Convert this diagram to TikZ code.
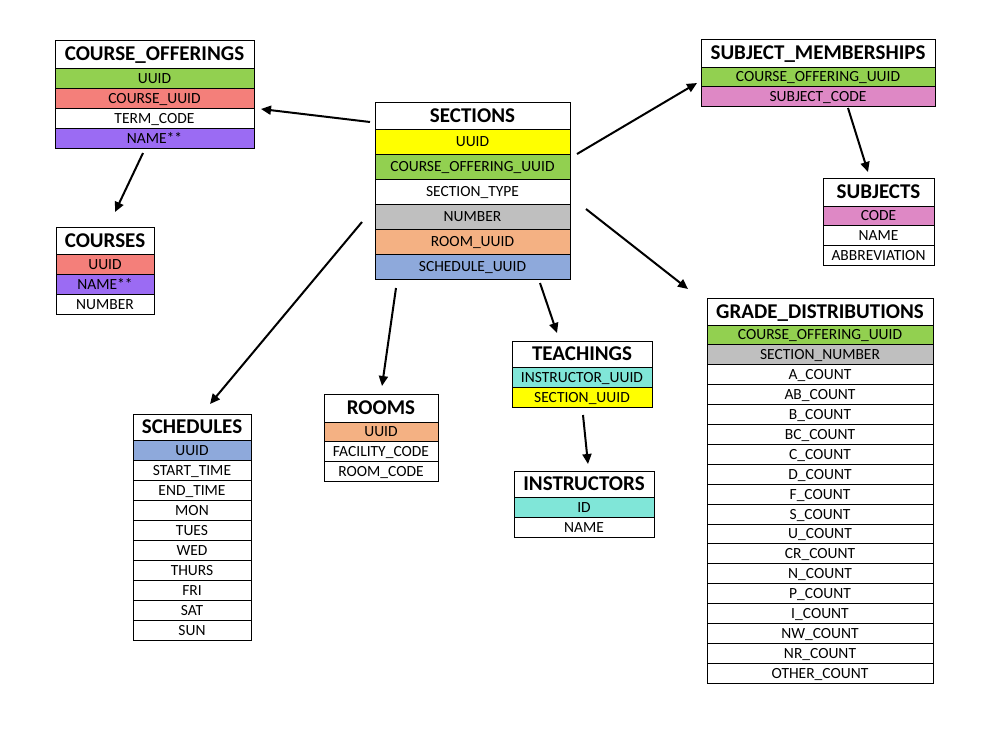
\documentclass[tikz,border=0pt]{standalone}
\usepackage{fontspec}
\setmainfont{Carlito}
\usetikzlibrary{arrows.meta}
\definecolor{cgreen}{HTML}{92D050}
\definecolor{csalmon}{HTML}{F47F7A}
\definecolor{cpurple}{HTML}{9B6BF3}
\definecolor{cyellow}{HTML}{FFFF00}
\definecolor{cgray}{HTML}{BFBFBF}
\definecolor{cpeach}{HTML}{F4B183}
\definecolor{cblue}{HTML}{8EA9DB}
\definecolor{cteal}{HTML}{80E6D8}
\definecolor{cpink}{HTML}{DE88C5}
\tikzset{
  ttl/.style={draw=black, line width=1pt, fill=white, inner sep=0pt, outer sep=0pt,
    font=\fontsize{21}{24}\selectfont\bfseries, text height=13.5pt, text depth=0pt},
  rowbox/.style={draw=black, line width=1pt, inner sep=0pt, outer sep=0pt,
    font=\fontsize{15.5}{18}\selectfont, text height=10pt, text depth=0pt},
  arr/.style={line width=2pt, -{Triangle[length=10pt,width=9pt]}}
}
% #1 name, #2 x, #3 y, #4 width, #5 title height, #6 row height, #7 title, #8 rows
\newcommand\mktable[8]{%
  \node[ttl, minimum width=#4, minimum height=#5, anchor=north west] (#1-0) at (#2,#3) {#7};
  \foreach \c/\t [count=\i, evaluate=\i as \j using int(\i-1)] in {#8} {
    \node[rowbox, fill=\c, minimum width=#4, minimum height=#6, anchor=north] (#1-\i) at (#1-\j.south) {\t};
  }%
}
\begin{document}
\begin{tikzpicture}[x=1pt, y=-1pt]
\useasboundingbox[fill=white] (0,0) rectangle (996,737);

\mktable{co}{55}{40}{199pt}{28pt}{20pt}{COURSE\_OFFERINGS}{cgreen/UUID, csalmon/COURSE\_UUID, white/TERM\_CODE, cpurple/NAME**}
\mktable{cs}{56}{227}{98pt}{27pt}{20pt}{COURSES}{csalmon/UUID, cpurple/NAME**, white/NUMBER}
\mktable{sec}{375}{102}{195pt}{27pt}{25pt}{SECTIONS}{cyellow/UUID, cgreen/COURSE\_OFFERING\_UUID, white/SECTION\_TYPE, cgray/NUMBER, cpeach/ROOM\_UUID, cblue/SCHEDULE\_UUID}
\mktable{sm}{701}{39}{234pt}{28pt}{19.5pt}{SUBJECT\_MEMBERSHIPS}{cgreen/COURSE\_OFFERING\_UUID, cpink/SUBJECT\_CODE}
\mktable{sub}{823}{178}{111pt}{28pt}{19.7pt}{SUBJECTS}{cpink/CODE, white/NAME, white/ABBREVIATION}
\mktable{gd}{707}{298}{226pt}{27pt}{19.9pt}{GRADE\_DISTRIBUTIONS}{cgreen/COURSE\_OFFERING\_UUID, cgray/SECTION\_NUMBER, white/A\_COUNT, white/AB\_COUNT, white/B\_COUNT, white/BC\_COUNT, white/C\_COUNT, white/D\_COUNT, white/F\_COUNT, white/S\_COUNT, white/U\_COUNT, white/CR\_COUNT, white/N\_COUNT, white/P\_COUNT, white/I\_COUNT, white/NW\_COUNT, white/NR\_COUNT, white/OTHER\_COUNT}
\mktable{sch}{133}{414}{118pt}{26pt}{20pt}{SCHEDULES}{cblue/UUID, white/START\_TIME, white/END\_TIME, white/MON, white/TUES, white/WED, white/THURS, white/FRI, white/SAT, white/SUN}
\mktable{rm}{324}{394}{114pt}{28pt}{19.7pt}{ROOMS}{cpeach/UUID, white/FACILITY\_CODE, white/ROOM\_CODE}
\mktable{te}{512}{341}{140pt}{26pt}{20pt}{TEACHINGS}{cteal/INSTRUCTOR\_UUID, cyellow/SECTION\_UUID}
\mktable{in}{514}{471}{140pt}{26pt}{20pt}{INSTRUCTORS}{cteal/ID, white/NAME}

% connector end points
\coordinate (a1s) at (370,122); \coordinate (a1e) at (261,109);
\coordinate (a2s) at (143,153); \coordinate (a2e) at (115,212);
\coordinate (a3s) at (577,154); \coordinate (a3e) at (697,83);
\coordinate (a4s) at (848,108); \coordinate (a4e) at (868,172);
\coordinate (a5s) at (586,209); \coordinate (a5e) at (688,289);
\coordinate (a6s) at (362,222); \coordinate (a6e) at (210,404);
\coordinate (a7s) at (396,288); \coordinate (a7e) at (382,386);
\coordinate (a8s) at (540,283); \coordinate (a8e) at (557,333);
\coordinate (a9s) at (583,415); \coordinate (a9e) at (588,464);

\draw[arr] (a1s) -- (a1e);
\draw[arr] (a2s) -- (a2e);
\draw[arr] (a3s) -- (a3e);
\draw[arr] (a4s) -- (a4e);
\draw[arr] (a5s) -- (a5e);
\draw[arr] (a6s) -- (a6e);
\draw[arr] (a7s) -- (a7e);
\draw[arr] (a8s) -- (a8e);
\draw[arr] (a9s) -- (a9e);
\end{tikzpicture}
\end{document}
